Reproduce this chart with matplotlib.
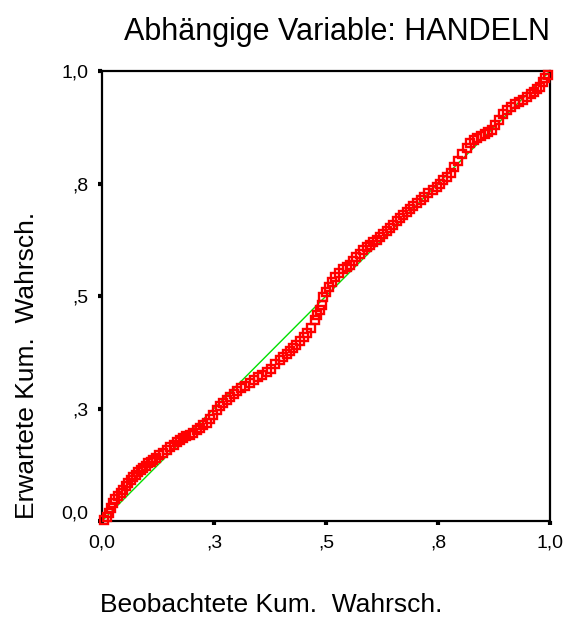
import matplotlib
matplotlib.use("Agg")
import matplotlib.pyplot as plt
import matplotlib.transforms as mtransforms
from matplotlib.ticker import FixedLocator, FixedFormatter

plt.rcParams['font.family'] = ['Liberation Sans', 'DejaVu Sans']

title = "Abhängige Variable: HANDELN"
xlabel = "Beobachtete Kum.  Wahrsch."
ylabel = "Erwartete Kum.  Wahrsch."

tick_values = [0.0, 0.25, 0.5, 0.75, 1.0]
tick_labels = ["0,0", ",3", ",5", ",8", "1,0"]

# Observed cumulative probabilities
observed = [0.005, 0.011, 0.016, 0.020, 0.025, 0.030, 0.036, 0.042, 0.047, 0.053,
            0.058, 0.064, 0.069, 0.075, 0.081, 0.087, 0.092, 0.098, 0.103, 0.109,
            0.114, 0.121, 0.128, 0.137, 0.145, 0.152, 0.160, 0.167, 0.174, 0.181,
            0.188, 0.196, 0.203, 0.211, 0.218, 0.226, 0.234, 0.241, 0.248, 0.257,
            0.264, 0.271, 0.279, 0.286, 0.294, 0.302, 0.310, 0.320, 0.330, 0.340,
            0.349, 0.358, 0.368, 0.377, 0.387, 0.397, 0.405, 0.413, 0.420, 0.426,
            0.434, 0.442, 0.450, 0.458, 0.466, 0.475, 0.481, 0.487, 0.490, 0.493,
            0.500, 0.507, 0.514, 0.520, 0.528, 0.537, 0.546, 0.554, 0.561, 0.568,
            0.576, 0.583, 0.591, 0.598, 0.606, 0.614, 0.621, 0.628, 0.636, 0.643,
            0.650, 0.658, 0.665, 0.672, 0.680, 0.688, 0.695, 0.703, 0.711, 0.719,
            0.728, 0.739, 0.747, 0.755, 0.762, 0.770, 0.778, 0.786, 0.795, 0.804,
            0.814, 0.822, 0.830, 0.838, 0.846, 0.854, 0.862, 0.870, 0.878, 0.886,
            0.895, 0.904, 0.913, 0.922, 0.931, 0.940, 0.949, 0.957, 0.964, 0.971,
            0.978, 0.984, 0.990, 0.996]

# Expected cumulative probabilities
expected = [0.003, 0.009, 0.018, 0.028, 0.040, 0.048, 0.055, 0.063, 0.069, 0.077,
            0.084, 0.091, 0.098, 0.103, 0.108, 0.113, 0.118, 0.123, 0.128, 0.132,
            0.136, 0.141, 0.146, 0.152, 0.158, 0.164, 0.170, 0.175, 0.180, 0.184,
            0.188, 0.192, 0.196, 0.202, 0.207, 0.213, 0.218, 0.226, 0.236, 0.247,
            0.255, 0.262, 0.269, 0.276, 0.283, 0.289, 0.295, 0.301, 0.307, 0.313,
            0.319, 0.325, 0.331, 0.338, 0.348, 0.358, 0.365, 0.372, 0.378, 0.384,
            0.392, 0.400, 0.409, 0.418, 0.430, 0.447, 0.458, 0.469, 0.480, 0.498,
            0.508, 0.520, 0.532, 0.542, 0.552, 0.559, 0.564, 0.569, 0.577, 0.586,
            0.594, 0.602, 0.608, 0.614, 0.619, 0.624, 0.631, 0.638, 0.645, 0.651,
            0.658, 0.666, 0.673, 0.680, 0.687, 0.694, 0.700, 0.707, 0.714, 0.721,
            0.728, 0.736, 0.743, 0.750, 0.757, 0.764, 0.774, 0.786, 0.800, 0.815,
            0.830, 0.840, 0.847, 0.852, 0.856, 0.859, 0.864, 0.870, 0.880, 0.892,
            0.904, 0.913, 0.920, 0.926, 0.931, 0.936, 0.942, 0.948, 0.954, 0.959,
            0.964, 0.975, 0.985, 0.992]

fig = plt.figure(figsize=(5.81, 6.21), dpi=100)
ax = fig.add_axes([0.1756, 0.161, 0.771, 0.7246])

# Diagonal reference line
ax.plot([0, 1], [0, 1], color="#00e000", lw=1.0, zorder=2)
# Open square markers
ax.plot(observed, expected, linestyle="none", marker="s", markersize=5.8,
        markerfacecolor="none", markeredgecolor="#ff0000", markeredgewidth=1.7,
        zorder=3, clip_on=False)

ax.set_xlim(0, 1)
ax.set_ylim(0, 1)
for s in ax.spines.values():
    s.set_linewidth(1.6)
    s.set_color("black")

ax.xaxis.set_major_locator(FixedLocator(tick_values))
ax.xaxis.set_major_formatter(FixedFormatter(tick_labels))
ax.yaxis.set_major_locator(FixedLocator(tick_values))
ax.yaxis.set_major_formatter(FixedFormatter(tick_labels))
ax.tick_params(direction="out", length=3, width=3, labelsize=14, pad=7)

fig.canvas.draw()
# lift the lowest y tick label a little above its tick
lbl = ax.yaxis.get_major_ticks()[0].label1
lbl.set_transform(lbl.get_transform() +
                  mtransforms.ScaledTranslation(0, 6.5 / 72, fig.dpi_scale_trans))

fig.text(0.58, 0.948, title, fontsize=22, ha="center", va="center")
fig.text(0.466, 0.026, xlabel, fontsize=19, ha="center", va="center")
fig.text(0.046, 0.412, ylabel, fontsize=19, ha="center", va="center", rotation=90)

fig.savefig("out.png", dpi=100)
